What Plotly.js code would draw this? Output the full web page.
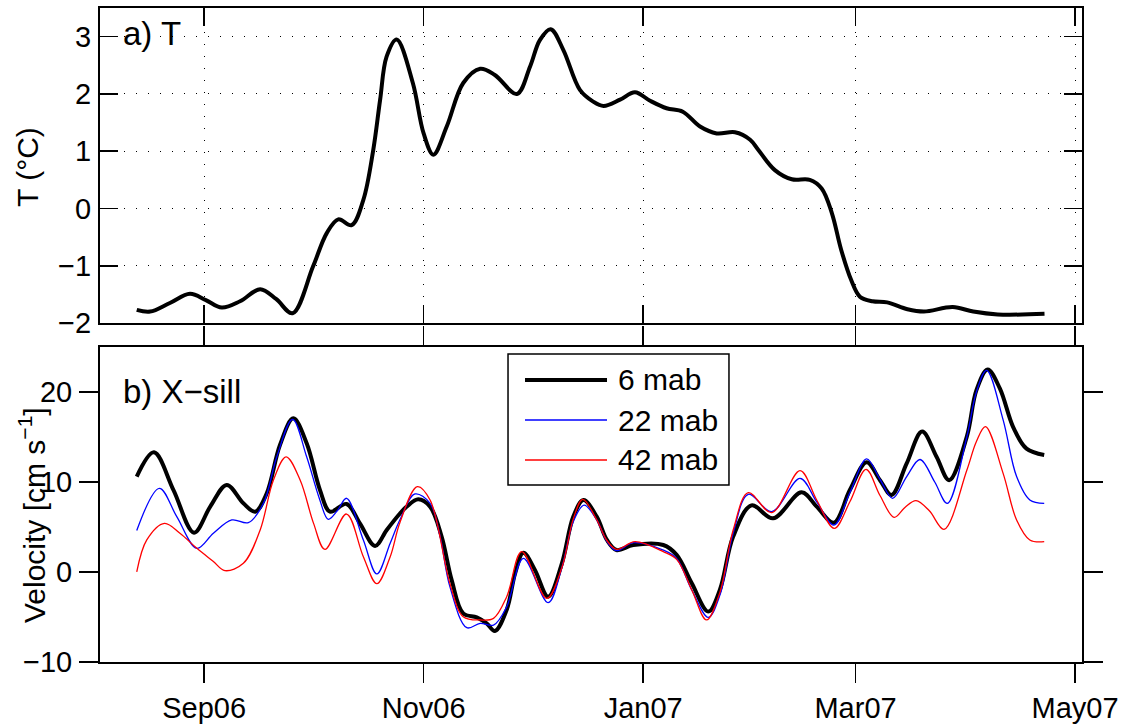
<!DOCTYPE html>
<html>
<head>
<meta charset="utf-8">
<script src="https://cdn.plot.ly/plotly-3.0.1.min.js"></script>
<style>html,body{margin:0;padding:0;background:#fff;}#chart{width:1127px;height:724px;}</style>
</head>
<body>
<div id="chart"></div>
<script>
// ---- Data ----
const tDates = ['2006-08-13 07:00','2006-08-17 00:00','2006-08-22 12:00','2006-08-28 02:00','2006-09-01 12:00','2006-09-05 22:00','2006-09-11 00:00','2006-09-16 14:00','2006-09-21 00:00','2006-09-25 14:00','2006-10-01 07:00','2006-10-05 02:00','2006-10-08 07:00','2006-10-12 00:00','2006-10-15 06:00','2006-10-18 00:00','2006-10-19 22:00','2006-10-21 17:00','2006-10-24 12:00','2006-10-29 00:00','2006-11-01 00:00','2006-11-03 17:00','2006-11-07 10:00','2006-11-12 00:00','2006-11-16 17:00','2006-11-20 19:00','2006-11-26 22:00','2006-11-30 14:00','2006-12-03 07:00','2006-12-06 07:00','2006-12-09 19:00','2006-12-14 10:00','2006-12-18 00:00','2006-12-21 00:00','2006-12-25 14:00','2006-12-29 17:00','2007-01-02 22:00','2007-01-07 12:00','2007-01-12 00:00','2007-01-16 19:00','2007-01-21 10:00','2007-01-26 12:00','2007-01-30 17:00','2007-02-02 00:00','2007-02-06 14:00','2007-02-11 07:00','2007-02-16 07:00','2007-02-19 14:00','2007-02-22 10:00','2007-02-25 00:00','2007-02-27 19:00','2007-03-02 05:00','2007-03-05 17:00','2007-03-09 19:00','2007-03-15 10:00','2007-03-20 00:00','2007-03-28 00:00','2007-04-02 17:00','2007-04-09 12:00','2007-04-22 12:00'];
const tValues = [-1.77,-1.80,-1.65,-1.49,-1.60,-1.73,-1.62,-1.41,-1.58,-1.83,-1.01,-0.43,-0.19,-0.29,0.15,1.02,1.9,2.65,2.95,2.19,1.31,0.94,1.43,2.19,2.44,2.33,2.0,2.48,2.94,3.13,2.77,2.07,1.87,1.79,1.9,2.03,1.88,1.75,1.69,1.43,1.31,1.33,1.2,1.02,0.67,0.51,0.5,0.35,-0.08,-0.72,-1.25,-1.54,-1.62,-1.64,-1.76,-1.80,-1.72,-1.80,-1.85,-1.84];

const v6Dates = ['2006-08-13 07:00','2006-08-18 02:00','2006-08-23 12:00','2006-08-29 05:00','2006-09-02 17:00','2006-09-07 07:00','2006-09-11 22:00','2006-09-15 05:00','2006-09-18 10:00','2006-09-22 02:00','2006-09-25 19:00','2006-09-29 12:00','2006-10-03 05:00','2006-10-06 00:00','2006-10-10 14:00','2006-10-14 07:00','2006-10-18 12:00','2006-10-21 18:00','2006-10-25 10:00','2006-10-27 07:00','2006-10-30 12:00','2006-11-02 19:00','2006-11-06 00:00','2006-11-08 19:00','2006-11-12 00:00','2006-11-15 18:00','2006-11-18 12:00','2006-11-20 19:00','2006-11-24 02:00','2006-11-26 10:00','2006-11-28 17:00','2006-12-01 22:00','2006-12-05 14:00','2006-12-09 10:00','2006-12-12 14:00','2006-12-15 10:00','2006-12-19 02:00','2006-12-21 22:00','2006-12-24 14:00','2006-12-29 06:00','2007-01-06 14:00','2007-01-10 07:00','2007-01-14 12:00','2007-01-19 02:00','2007-01-22 07:00','2007-01-26 00:00','2007-01-31 02:00','2007-02-06 02:00','2007-02-14 00:00','2007-02-18 05:00','2007-02-23 00:00','2007-02-27 10:00','2007-03-04 02:00','2007-03-07 19:00','2007-03-11 00:00','2007-03-15 05:00','2007-03-19 12:00','2007-03-23 12:00','2007-03-27 00:00','2007-03-31 22:00','2007-04-03 14:00','2007-04-06 17:00','2007-04-10 02:00','2007-04-13 19:00','2007-04-17 12:00','2007-04-22 10:00'];
const v6Values = [10.6,13.3,9.1,4.37,7.26,9.67,7.63,6.7,8.74,14.1,17.07,14.3,9.1,6.7,7.56,5.4,2.9,4.67,6.5,7.26,8.07,7.26,3.93,-0.9,-4.6,-5.04,-5.7,-6.56,-4.2,-0.15,2.15,0.22,-2.74,0.96,6.15,8.0,6.15,3.56,2.44,3.0,3.0,1.9,-1.26,-4.4,-2.0,3.93,7.4,5.96,8.85,7.26,5.48,9.1,12.19,10.2,8.56,12.07,15.6,12.8,10.2,15.04,20.2,22.5,20.4,16.1,13.7,13.0];

const v22Dates = ['2006-08-13 07:00','2006-08-19 14:00','2006-08-24 10:00','2006-08-30 00:00','2006-09-03 14:00','2006-09-08 17:00','2006-09-13 07:00','2006-09-17 12:00','2006-09-21 05:00','2006-09-25 14:00','2006-09-29 12:00','2006-10-03 00:00','2006-10-05 12:00','2006-10-08 00:00','2006-10-10 14:00','2006-10-15 06:00','2006-10-19 00:00','2006-10-22 17:00','2006-10-25 10:00','2006-10-29 14:00','2006-11-02 19:00','2006-11-05 14:00','2006-11-08 07:00','2006-11-13 00:00','2006-11-16 17:00','2006-11-20 10:00','2006-11-24 02:00','2006-11-28 17:00','2006-12-05 14:00','2006-12-09 10:00','2006-12-12 14:00','2006-12-15 14:00','2006-12-19 02:00','2006-12-21 22:00','2006-12-24 14:00','2006-12-29 06:00','2007-01-06 14:00','2007-01-10 07:00','2007-01-14 12:00','2007-01-19 02:00','2007-01-22 07:00','2007-01-26 00:00','2007-01-30 05:00','2007-02-05 17:00','2007-02-13 14:00','2007-02-18 05:00','2007-02-23 00:00','2007-02-27 10:00','2007-03-04 02:00','2007-03-07 19:00','2007-03-11 07:00','2007-03-15 05:00','2007-03-18 22:00','2007-03-23 00:00','2007-03-26 12:00','2007-03-31 22:00','2007-04-03 14:00','2007-04-06 10:00','2007-04-11 00:00','2007-04-14 18:00','2007-04-18 10:00','2007-04-22 10:00'];
const v22Values = [4.6,9.3,6.15,2.63,4.3,5.78,5.48,7.63,12.8,16.96,12.8,8.2,5.85,6.8,8.19,3.56,-0.22,3.2,5.8,8.67,7.63,3.93,-1.63,-6.19,-5.7,-5.9,-3.85,1.52,-3.4,0.5,5.6,7.44,5.8,3.4,2.37,3.26,2.44,1.5,-2.0,-5.04,-2.6,4.3,8.63,6.7,10.4,7.8,5.22,8.8,12.56,10.3,8.19,10.6,12.5,10.0,7.63,15.0,20.0,22.4,16.9,10.6,8.0,7.63];

const v42Dates = ['2006-08-13 07:00','2006-08-16 02:00','2006-08-21 00:00','2006-08-25 07:00','2006-08-30 00:00','2006-09-03 12:00','2006-09-06 19:00','2006-09-11 22:00','2006-09-16 14:00','2006-09-20 06:00','2006-09-23 19:00','2006-09-27 17:00','2006-10-01 10:00','2006-10-04 14:00','2006-10-10 14:00','2006-10-15 06:00','2006-10-19 00:00','2006-10-22 17:00','2006-10-25 10:00','2006-10-30 06:00','2006-11-02 19:00','2006-11-08 07:00','2006-11-12 00:00','2006-11-16 17:00','2006-11-20 10:00','2006-11-24 02:00','2006-11-28 06:00','2006-12-05 05:00','2006-12-09 10:00','2006-12-12 14:00','2006-12-15 05:00','2006-12-19 02:00','2006-12-21 22:00','2006-12-24 14:00','2006-12-29 17:00','2007-01-06 14:00','2007-01-10 07:00','2007-01-14 12:00','2007-01-18 14:00','2007-01-22 07:00','2007-01-26 00:00','2007-01-30 05:00','2007-02-05 17:00','2007-02-13 14:00','2007-02-18 05:00','2007-02-23 02:00','2007-02-27 10:00','2007-03-03 22:00','2007-03-07 19:00','2007-03-11 17:00','2007-03-14 19:00','2007-03-17 19:00','2007-03-21 12:00','2007-03-25 14:00','2007-03-31 22:00','2007-04-03 14:00','2007-04-06 02:00','2007-04-11 00:00','2007-04-14 18:00','2007-04-18 10:00','2007-04-22 10:00'];
const v42Values = [0.0,3.56,5.4,4.3,2.63,1.2,0.15,0.96,4.67,10.2,12.8,10.2,5.4,2.52,6.44,1.7,-1.3,1.7,5.5,9.48,8.0,-1.26,-4.96,-5.33,-5.15,-2.74,2.26,-2.93,0.5,5.9,8.07,5.8,3.5,2.52,3.37,2.26,1.4,-2.0,-5.33,-2.3,4.67,8.81,6.59,11.26,8.0,4.85,7.8,11.4,8.5,6.07,7.2,7.93,6.8,4.74,11.3,14.5,16.15,10.96,5.78,3.56,3.37];

const seriesNames = ['6 mab','22 mab','42 mab'];
const xTickVals = ['2006-09-01','2006-11-01','2007-01-01','2007-03-01','2007-05-01'];
const xTickText = ['Sep06','Nov06','Jan07','Mar07','May07'];
const tTickVals = [-2,-1,0,1,2,3];
const vTickVals = [-10,0,10,20];
const xRange = ['2006-08-03 02:00','2007-05-02 22:00'];

// ---- Styles ----
const FONT = 'Liberation Sans, Arial, Helvetica, sans-serif';
const seriesColors = ['#000000','#0000ff','#ff0000'];
const seriesWidths = [4, 1.3, 1.3];

const traces = [
  {x:tDates, y:tValues, xaxis:'x', yaxis:'y', mode:'lines', line:{color:'#000', width:4, shape:'spline', smoothing:1}, showlegend:false, name:'T'},
  {x:v6Dates, y:v6Values, xaxis:'x2', yaxis:'y2', mode:'lines', line:{color:seriesColors[0], width:seriesWidths[0], shape:'spline', smoothing:1}, name:seriesNames[0], showlegend:false},
  {x:v22Dates, y:v22Values, xaxis:'x2', yaxis:'y2', mode:'lines', line:{color:seriesColors[1], width:seriesWidths[1], shape:'spline', smoothing:1}, name:seriesNames[1], showlegend:false},
  {x:v42Dates, y:v42Values, xaxis:'x2', yaxis:'y2', mode:'lines', line:{color:seriesColors[2], width:seriesWidths[2], shape:'spline', smoothing:1}, name:seriesNames[2], showlegend:false}
];

const axCommon = {showline:true, linecolor:'#000', linewidth:2, mirror:'ticks', tickcolor:'#000', tickwidth:1.5, ticklen:18, zeroline:false, tickfont:{family:FONT, size:29, color:'#000'}};

// legend drawn as a boxed key (long line samples as in the reference)
const legBox = {x0:0.4155, x1:0.6405, y0:0.2706, y1:0.4709};
const legLineX = [0.4328, 0.5163];
const legRowsY = [0.4312, 0.3700, 0.3089];
const legTextX = 0.5255;

const shapes = [
  {type:'rect', xref:'paper', yref:'paper', x0:legBox.x0, x1:legBox.x1, y0:legBox.y0, y1:legBox.y1, line:{color:'#000', width:1.5}, fillcolor:'#fff', layer:'above'}
];
const annotations = [
  {text:'a) T', xref:'paper', yref:'paper', x:0.0214, y:0.961, xanchor:'left', yanchor:'middle', showarrow:false, font:{family:FONT, size:33, color:'#000'}},
  {text:'b) X\u2212sill', xref:'paper', yref:'paper', x:0.0214, y:0.414, xanchor:'left', yanchor:'middle', showarrow:false, font:{family:FONT, size:33, color:'#000'}},
  {text:'T (\u00B0C)', xref:'paper', yref:'paper', x:-0.0733, y:0.757, xanchor:'center', yanchor:'middle', textangle:-90, showarrow:false, font:{family:FONT, size:30, color:'#000'}},
  {text:'Velocity [cm s<sup>\u22121</sup>]', xref:'paper', yref:'paper', x:-0.0692, y:0.2248, xanchor:'center', yanchor:'middle', textangle:-90, showarrow:false, font:{family:FONT, size:30, color:'#000'}}
];
seriesNames.forEach(function(nm, i){
  shapes.push({type:'line', xref:'paper', yref:'paper', x0:legLineX[0], x1:legLineX[1], y0:legRowsY[i], y1:legRowsY[i], line:{color:seriesColors[i], width:seriesWidths[i]}, layer:'above'});
  annotations.push({text:nm, xref:'paper', yref:'paper', x:legTextX, y:legRowsY[i], xanchor:'left', yanchor:'middle', showarrow:false, font:{family:FONT, size:30, color:'#000'}});
});

const layout = {
  width:1127, height:724,
  margin:{l:100, r:45, t:8, b:62},
  paper_bgcolor:'#fff', plot_bgcolor:'#fff',
  font:{family:FONT, color:'#000', size:29},
  showlegend:false,
  xaxis: Object.assign({}, axCommon, {type:'date', domain:[0,1], anchor:'y', range:xRange, tickvals:xTickVals, ticktext:xTickText, showticklabels:false, ticks:'inside', showgrid:true, gridcolor:'#000', gridwidth:1, griddash:'1px,11px'}),
  yaxis: Object.assign({}, axCommon, {domain:[0.5183,1], anchor:'x', range:[-2,3.5], tickvals:tTickVals, ticks:'inside', showgrid:true, gridcolor:'#000', gridwidth:1, griddash:'1px,11px', ticklabelstandoff:1}),
  xaxis2: Object.assign({}, axCommon, {type:'date', domain:[0,1], anchor:'y2', range:xRange, tickvals:xTickVals, ticktext:xTickText, ticks:'outside', ticklen:19, showgrid:false}),
  yaxis2: Object.assign({}, axCommon, {domain:[0,0.4817], anchor:'x2', range:[-10,25], tickvals:vTickVals, ticks:'outside', ticklen:19, showgrid:false, ticklabelstandoff:1}),
  shapes: shapes,
  annotations: annotations
};

Plotly.newPlot('chart', traces, layout, {staticPlot:true, displayModeBar:false});
</script>
</body>
</html>
